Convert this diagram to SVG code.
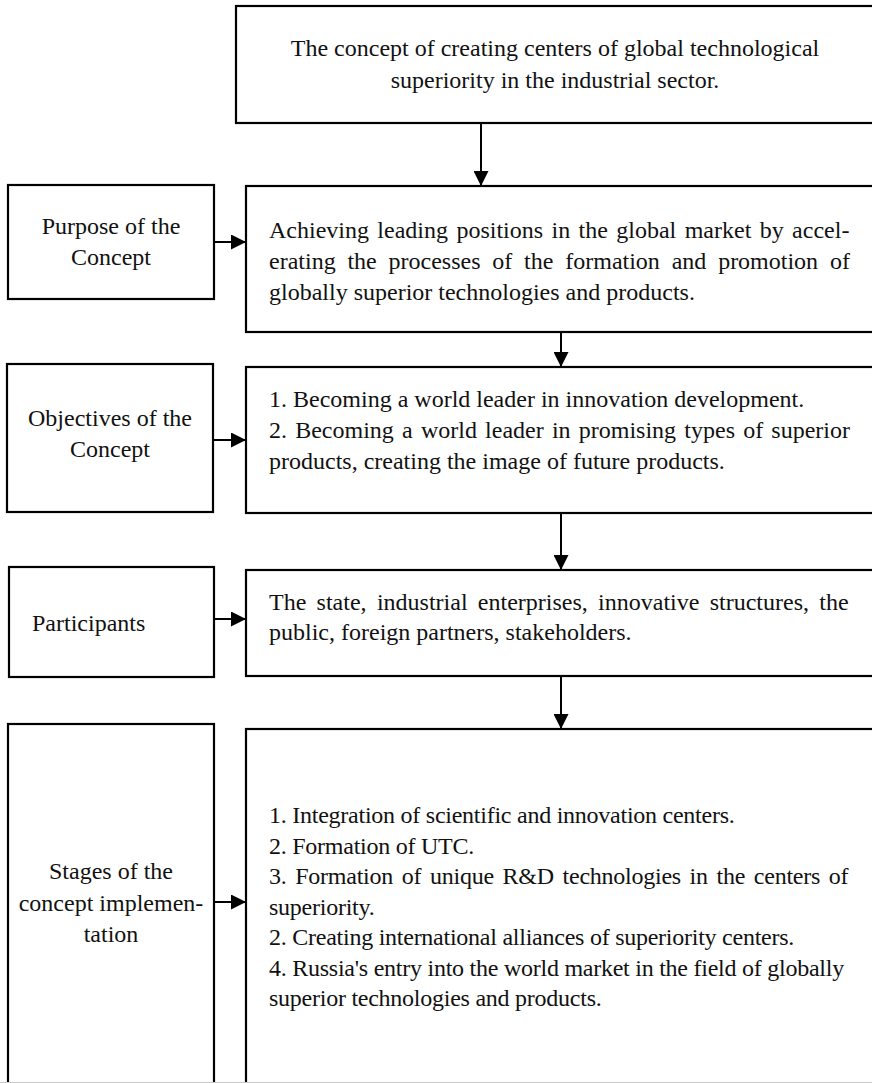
<svg xmlns="http://www.w3.org/2000/svg" width="872" height="1083" viewBox="0 0 872 1083">
  <style>
    .box { fill: #fff; stroke: #000; stroke-width: 2.2; }
    .t { font-family: "Liberation Serif", "Times New Roman", serif; font-size: 24px; fill: #111; }
    .c { text-anchor: middle; }
    .cond { letter-spacing: -0.25px; }
    .link { stroke: #000; stroke-width: 2; fill: none; marker-end: url(#head); }
  </style>
  <defs>
    <marker id="head" markerUnits="userSpaceOnUse" markerWidth="16" markerHeight="15" refX="15" refY="7.5" orient="auto">
      <path d="M0,0 L15,7.5 L0,15 z" fill="#000"/>
    </marker>
  </defs>
  <rect width="872" height="1083" fill="#fff"/>

  <!-- main column -->
  <g id="concept">
    <rect class="box" x="236" y="6" width="650" height="117"/>
    <text class="t c" x="555" y="56">The concept of creating centers of global technological</text>
    <text class="t c" x="555" y="88">superiority in the industrial sector.</text>
  </g>

  <g id="purpose-text">
    <rect class="box" x="246" y="186" width="640" height="146"/>
    <text class="t" x="269" y="238" word-spacing="2.4">Achieving leading positions in the global market by accel-</text>
    <text class="t" x="269" y="269" word-spacing="5.8">erating the processes of the formation and promotion of</text>
    <text class="t" x="269" y="300">globally superior technologies and products.</text>
  </g>

  <g id="objectives-text">
    <rect class="box" x="246" y="367" width="640" height="146"/>
    <text class="t" x="269" y="407">1. Becoming a world leader in innovation development.</text>
    <text class="t" x="269" y="438" word-spacing="2.2">2. Becoming a world leader in promising types of superior</text>
    <text class="t" x="269" y="469">products, creating the image of future products.</text>
  </g>

  <g id="participants-text">
    <rect class="box" x="246" y="570" width="640" height="106"/>
    <text class="t" x="269" y="610" word-spacing="4.3">The state, industrial enterprises, innovative structures, the</text>
    <text class="t" x="269" y="640">public, foreign partners, stakeholders.</text>
  </g>

  <g id="stages-text">
    <rect class="box" x="246" y="729" width="640" height="370"/>
    <text class="t cond" x="269" y="823">1. Integration of scientific and innovation centers.</text>
    <text class="t cond" x="269" y="853.5">2. Formation of UTC.</text>
    <text class="t cond" x="269" y="884" word-spacing="3">3. Formation of unique R&amp;D technologies in the centers of</text>
    <text class="t cond" x="269" y="914.5">superiority.</text>
    <text class="t cond" x="269" y="945">2. Creating international alliances of superiority centers.</text>
    <text class="t cond" x="269" y="975.5">4. Russia's entry into the world market in the field of globally</text>
    <text class="t cond" x="269" y="1006">superior technologies and products.</text>
  </g>

  <!-- left labels -->
  <g id="purpose">
    <rect class="box" x="8" y="185" width="206" height="114"/>
    <text class="t c" x="111" y="234">Purpose of the</text>
    <text class="t c" x="111" y="265">Concept</text>
  </g>

  <g id="objectives">
    <rect class="box" x="7" y="364" width="206" height="148"/>
    <text class="t c" x="110" y="426">Objectives of the</text>
    <text class="t c" x="110" y="457">Concept</text>
  </g>

  <g id="participants">
    <rect class="box" x="9" y="567" width="205" height="110"/>
    <text class="t" x="32" y="631">Participants</text>
  </g>

  <g id="stages">
    <rect class="box" x="8" y="724" width="206" height="375"/>
    <text class="t c" x="111" y="879">Stages of the</text>
    <text class="t c" x="111" y="910.5">concept implemen-</text>
    <text class="t c" x="111" y="942">tation</text>
  </g>

  <!-- connectors -->
  <g id="connectors">
    <line class="link" x1="481" y1="123" x2="481" y2="186"/>
    <line class="link" x1="561" y1="332" x2="561" y2="367"/>
    <line class="link" x1="561" y1="513" x2="561" y2="570"/>
    <line class="link" x1="561" y1="676" x2="561" y2="729"/>
    <line class="link" x1="214" y1="242" x2="246" y2="242"/>
    <line class="link" x1="213" y1="440" x2="246" y2="440"/>
    <line class="link" x1="214" y1="619" x2="246" y2="619"/>
    <line class="link" x1="214" y1="902" x2="246" y2="902"/>
  </g>

  <line x1="0" y1="1082.5" x2="872" y2="1082.5" stroke="#c8c8c8" stroke-width="1"/>
</svg>
